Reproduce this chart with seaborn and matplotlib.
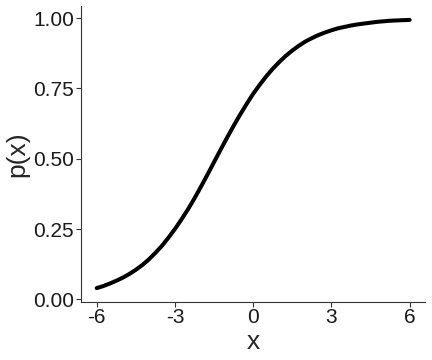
import matplotlib
matplotlib.use("Agg")
import matplotlib.pyplot as plt
import seaborn as sns
import pandas as pd

# значения (шаг 0.25)
x_vals = [-6, -5.75, -5.5, -5.25, -5, -4.75, -4.5, -4.25, -4, -3.75, -3.5, -3.25,
          -3, -2.75, -2.5, -2.25, -2, -1.75, -1.5, -1.25, -1, -0.75, -0.5, -0.25,
          0, 0.25, 0.5, 0.75, 1, 1.25, 1.5, 1.75, 2, 2.25, 2.5, 2.75,
          3, 3.25, 3.5, 3.75, 4, 4.25, 4.5, 4.75, 5, 5.25, 5.5, 5.75, 6]
p_vals = [0.040, 0.047, 0.056, 0.066, 0.077, 0.090, 0.105, 0.122, 0.142, 0.165, 0.190, 0.219,
          0.250, 0.284, 0.320, 0.359, 0.401, 0.444, 0.488, 0.532, 0.575, 0.617, 0.657, 0.695,
          0.731, 0.763, 0.793, 0.820, 0.844, 0.866, 0.885, 0.902, 0.917, 0.929, 0.940, 0.949,
          0.957, 0.964, 0.969, 0.974, 0.978, 0.981, 0.984, 0.987, 0.989, 0.991, 0.992, 0.993, 0.994]
x_ticks = [-6, -3, 0, 3, 6]
x_tick_labels = ["-6", "-3", "0", "3", "6"]
y_ticks = [0.0, 0.25, 0.5, 0.75, 1.0]
y_tick_labels = ["0.00", "0.25", "0.50", "0.75", "1.00"]

df = pd.DataFrame({"x": x_vals, "p": p_vals})

sns.set_style("white")
plt.rcParams["font.family"] = ["Liberation Sans", "DejaVu Sans"]

fig = plt.figure(figsize=(4.32, 3.6), dpi=100)
ax = fig.add_axes([0.1875, 0.1625, 0.797, 0.8195])

sns.lineplot(data=df, x="x", y="p", color="black", linewidth=2.9, ax=ax)

ax.set_xlim(-6.6, 6.6)
ax.set_ylim(-0.0077, 1.0417)
ax.set_xticks(x_ticks)
ax.set_xticklabels(x_tick_labels)
ax.set_yticks(y_ticks)
ax.set_yticklabels(y_tick_labels)
ax.tick_params(axis="both", length=3.5, width=0.8, color="#333333",
               labelsize=15, labelcolor="#1a1a1a", pad=1.5, direction="out",
               bottom=True, left=True)
ax.set_xlabel("x", fontsize=19, labelpad=1.5)
ax.set_ylabel("p(x)", fontsize=19, labelpad=3)

for side in ["top", "right"]:
    ax.spines[side].set_visible(False)
for side in ["left", "bottom"]:
    ax.spines[side].set_color("#333333")
    ax.spines[side].set_linewidth(0.8)

fig.savefig("out.png", dpi=100)
plt.close(fig)
